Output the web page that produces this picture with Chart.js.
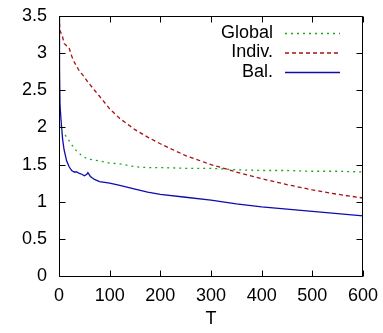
<!DOCTYPE html>
<html>
<head>
<meta charset="utf-8">
<script src="https://cdn.jsdelivr.net/npm/chart.js@4.4.0/dist/chart.umd.min.js"></script>
<style>
  html, body { margin: 0; padding: 0; background: #fff; }
  #wrap { position: relative; width: 383px; height: 333px; }
  #wrap canvas { position: absolute; left: 0; top: 0; }
  #overlay { pointer-events: none; }
</style>
</head>
<body>
<div id="wrap">
  <canvas id="chart" width="383" height="333"></canvas>
  <canvas id="overlay" width="383" height="333"></canvas>
</div>
<script>
// sampled T values (shared by all three curves)
const tValues = [0, 1, 2, 4, 7, 10, 15, 20, 25, 30, 35, 40, 45, 50, 55, 57, 62, 70, 80, 100,
  120, 150, 175, 200, 250, 300, 350, 400, 450, 500, 550, 600];

const globalVals = [2.2, 2.05, 2.0, 1.97, 1.94, 1.92, 1.87, 1.82, 1.77, 1.72, 1.68, 1.65, 1.62, 1.6, 1.58, 1.57, 1.57, 1.56, 1.55, 1.52,
  1.51, 1.47, 1.46, 1.46, 1.45, 1.45, 1.43, 1.42, 1.42, 1.41, 1.41, 1.4];

const indivVals = [3.5, 3.38, 3.3, 3.27, 3.22, 3.13, 3.1, 3.07, 2.96, 2.88, 2.82, 2.76, 2.72, 2.68, 2.63, 2.61, 2.57, 2.5, 2.42, 2.25,
  2.12, 1.97, 1.87, 1.78, 1.62, 1.5, 1.4, 1.31, 1.23, 1.16, 1.1, 1.05];

const balVals = [3.5, 2.8, 2.3, 2.1, 1.85, 1.7, 1.55, 1.47, 1.42, 1.4, 1.4, 1.38, 1.37, 1.35, 1.37, 1.39, 1.34, 1.3, 1.27, 1.25,
  1.22, 1.17, 1.13, 1.1, 1.06, 1.02, 0.97, 0.93, 0.9, 0.87, 0.84, 0.81];

const xTicks = [0, 100, 200, 300, 400, 500, 600];
const yTicks = [0, 0.5, 1, 1.5, 2, 2.5, 3, 3.5];

const FONT = 'Liberation Sans, Arial, sans-serif';

function pts(vals) {
  return tValues.map((t, i) => ({ x: t, y: vals[i] }));
}

function noOverhang(s) {
  s.paddingLeft = 0; s.paddingRight = 0; s.paddingTop = 0; s.paddingBottom = 0;
}

// frame + inward ticks on all four sides, drawn on a layer above the chart
// using the chart's own scales
const frameLayer = {
  id: 'frameLayer',
  afterRender(chart) {
    const ov = document.getElementById('overlay').getContext('2d');
    const a = chart.chartArea;
    const sx = chart.scales.x, sy = chart.scales.y;
    const len = 6;
    const l = Math.round(a.left) + 0.5, t = Math.round(a.top) + 0.5;
    const r = Math.round(a.right) - 0.5, b = Math.round(a.bottom) + 0.5;
    ov.clearRect(0, 0, 383, 333);
    ov.strokeStyle = '#000';
    ov.lineWidth = 1;
    ov.beginPath();
    ov.rect(l, t, r - l, b - t);
    for (const v of xTicks) {
      const x = Math.round(sx.getPixelForValue(v)) + 0.5;
      ov.moveTo(x, b); ov.lineTo(x, b - len);
      ov.moveTo(x, t); ov.lineTo(x, t + len);
    }
    for (const v of yTicks) {
      const y = Math.round(sy.getPixelForValue(v)) + 0.5;
      ov.moveTo(l, y); ov.lineTo(l + len, y);
      ov.moveTo(r, y); ov.lineTo(r - len, y);
    }
    ov.stroke();
  }
};

// key at top right: label, then line sample
const keyBox = {
  id: 'keyBox',
  afterDraw(chart) {
    const ctx = chart.ctx;
    ctx.save();
    ctx.font = '18px ' + FONT;
    ctx.textAlign = 'right';
    ctx.textBaseline = 'middle';
    chart.data.datasets.forEach((ds, i) => {
      const y = 33 + i * 19.5;
      ctx.fillStyle = '#000';
      ctx.fillText(ds.label, 273, y);
      ctx.strokeStyle = ds.borderColor;
      ctx.lineWidth = ds.borderWidth;
      ctx.setLineDash(ds.borderDash || []);
      ctx.beginPath();
      ctx.moveTo(285, y + 0.5);
      ctx.lineTo(340, y + 0.5);
      ctx.stroke();
    });
    ctx.restore();
  }
};

new Chart(document.getElementById('chart'), {
  type: 'line',
  data: {
    datasets: [
      { label: 'Global', data: pts(globalVals), borderColor: '#1aa81a', borderWidth: 1.3, borderDash: [2, 4] },
      { label: 'Indiv.', data: pts(indivVals), borderColor: '#a81010', borderWidth: 1.3, borderDash: [4, 3] },
      { label: 'Bal.', data: pts(balVals), borderColor: '#0c0cb0', borderWidth: 1.3 }
    ]
  },
  options: {
    responsive: false,
    animation: false,
    layout: { padding: { left: 0, top: 16, right: 20, bottom: 0 } },
    elements: { point: { radius: 0 }, line: { tension: 0 } },
    plugins: { legend: { display: false }, tooltip: { enabled: false } },
    scales: {
      x: {
        type: 'linear', position: 'bottom', min: 0, max: 600,
        afterBuildTicks(s) { s.ticks = xTicks.map(v => ({ value: v })); },
        afterFit(s) { s.height = 57; noOverhang(s); },
        grid: { display: false, drawTicks: false },
        border: { display: false },
        ticks: { color: '#000', padding: 9, maxRotation: 0, callback: v => String(v), font: { family: FONT, size: 18 } },
        title: { display: true, text: 'T', color: '#000', padding: { top: 0, bottom: 3 }, font: { family: FONT, size: 18 } }
      },
      y: {
        type: 'linear', position: 'left', min: 0, max: 3.5,
        afterBuildTicks(s) { s.ticks = yTicks.map(v => ({ value: v })); },
        afterFit(s) { s.width = 59; noOverhang(s); },
        grid: { display: false, drawTicks: false },
        border: { display: false },
        ticks: { color: '#000', padding: 12, callback: v => String(v), font: { family: FONT, size: 18 } }
      }
    }
  },
  plugins: [frameLayer, keyBox]
});
</script>
</body>
</html>
